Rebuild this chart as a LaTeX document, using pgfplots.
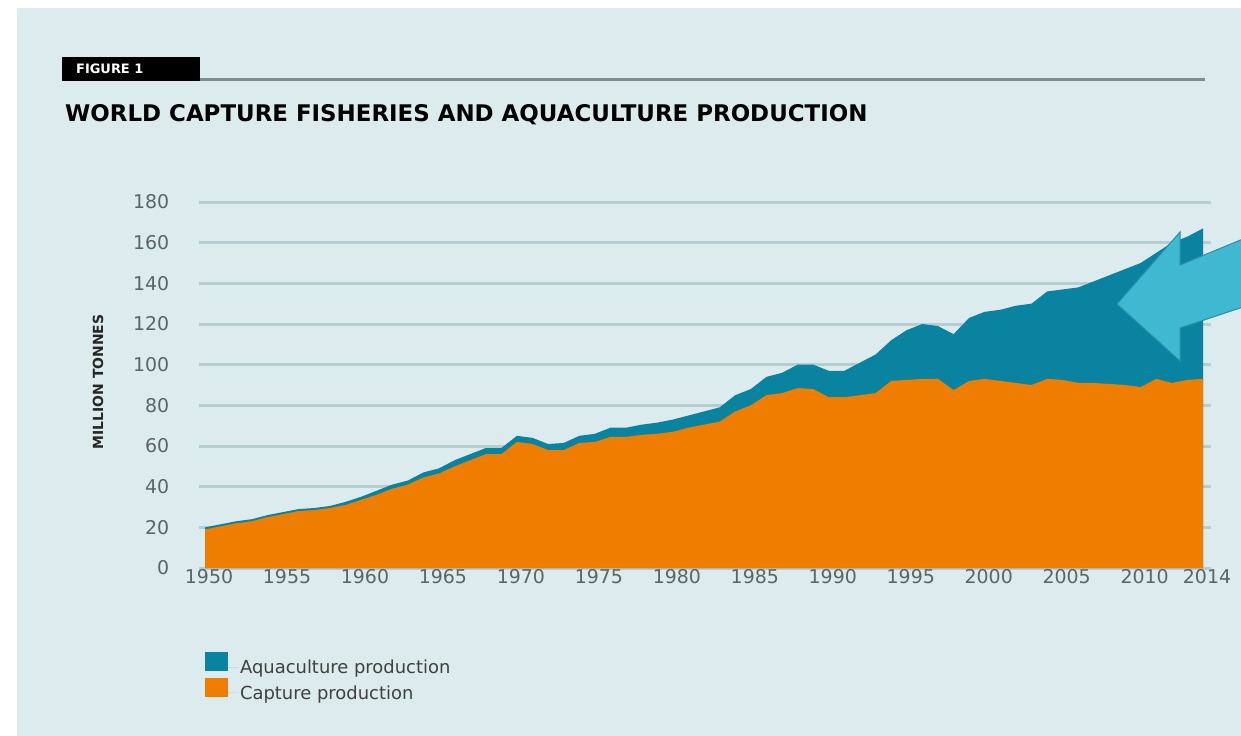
\documentclass[border=0pt]{standalone}
\usepackage{pgfplots}
\pgfplotsset{compat=1.18}
\usepackage{pgfplotstable}
\usepackage{fontspec}
\setmainfont{DejaVu Sans}
\definecolor{bgpanel}{HTML}{DCEBEE}
\definecolor{gridc}{HTML}{B4CED1}
\definecolor{capt}{HTML}{EF7D00}
\definecolor{aqua}{HTML}{0A83A1}
\definecolor{arrowc}{HTML}{3FB9D1}
\definecolor{arrowd}{HTML}{2B8FA5}
\definecolor{ticktxt}{HTML}{5B6467}
\definecolor{rulec}{HTML}{7E8D8F}

\pgfplotstableread{
year total capture
1950 20 19
1951 21.5 20.5
1952 23 22
1953 24 23
1954 26 25
1955 27.5 26.5
1956 29 28
1957 29.5 28.5
1958 30.5 29.5
1959 32.5 31
1960 35 33.5
1961 38 36
1962 41 39
1963 43 41
1964 47 44.5
1965 49 46.5
1966 53 50
1967 56 53
1968 59 56
1969 59 56
1970 65 62
1971 64 61
1972 61 58
1973 61.5 58
1974 65 61.5
1975 66 62
1976 69 64.5
1977 69 64.5
1978 70.5 65.5
1979 71.5 66
1980 73 67
1981 75 69
1982 77 70.5
1983 79 72
1984 85 77
1985 88 80
1986 94 85
1987 96 86
1988 100 88.5
1989 100 88
1990 97 84
1991 97 84
1992 101 85
1993 105 86
1994 112 92
1995 117 92.5
1996 120 93
1997 119 93
1998 115 87.5
1999 123 92
2000 126 93
2001 127 92
2002 129 91
2003 130 90
2004 136 93
2005 137 92.5
2006 138 91
2007 141 91
2008 144 90.5
2009 147 90
2010 150 89
2011 155 93
2012 160 91
2013 163 92.5
2014 167 93
}\datatable

\begin{document}
\begin{tikzpicture}
\begin{scope}[x=1bp,y=-1bp]
\fill[white] (0,0) rectangle (1241,736);
\fill[bgpanel] (17,8) rectangle (1241,736);
\fill[black] (62,57) rectangle (200,81);
\node[white, font=\bfseries\fontsize{13}{13}\selectfont, anchor=west, inner sep=0] at (76,69) {FIGURE 1};
\draw[rulec, line width=3bp] (200,80) -- (1205,80);
\node[anchor=base west, font=\bfseries\fontsize{23}{23}\selectfont, inner sep=0] at (65,122) {WORLD CAPTURE FISHERIES AND AQUACULTURE PRODUCTION};
\node[rotate=90, font=\bfseries\fontsize{14}{14}\selectfont, text=black!85, inner sep=0] at (98,382) {MILLION TONNES};
\end{scope}

\begin{axis}[
  at={(198.8bp,-568bp)}, anchor=south west,
  scale only axis, width=1012bp, height=366bp,
  xmin=1949.6, xmax=2014.5, ymin=0, ymax=180,
  axis line style={draw=none}, tick style={draw=none},
  ytick={0,20,...,180},
  xtick={1950,1955,...,2010,2014},
  ymajorgrids, grid style={gridc, line width=3bp},
  /pgf/number format/assume math mode=true,
  x tick label style={/pgf/number format/1000 sep={}, yshift=2bp, xshift=4bp},
  yticklabel style={xshift=-26bp},
  tick label style={font=\fontsize{19}{19}\selectfont, text=ticktxt},
  legend style={at={(axis description cs:0.006,-0.23)}, anchor=north west,
    draw=none, fill=none, inner sep=0pt, font=\fontsize{18}{18}\selectfont,
    text=black!75, row sep=1bp},
  legend cell align=left,
  legend image code/.code={\fill[#1] (0bp,-4bp) rectangle (23bp,15bp); \path (0bp,0bp) -- (33bp,0bp);},
]
\addplot[fill=aqua, draw=none] table[x=year,y=total]{\datatable} \closedcycle;
\addplot[fill=capt, draw=none] table[x=year,y=capture]{\datatable} \closedcycle;
\legend{Aquaculture production, Capture production}
\end{axis}

\begin{scope}[x=1bp,y=-1bp]
\fill[arrowc, draw=arrowd, line width=1bp] (1117,304) -- (1180,232) -- (1180,265) -- (1255,234) -- (1255,303) -- (1180,328) -- (1180,361) -- cycle;
\pgfresetboundingbox
\useasboundingbox (0,0) rectangle (1241,736);
\end{scope}
\end{tikzpicture}
\end{document}
